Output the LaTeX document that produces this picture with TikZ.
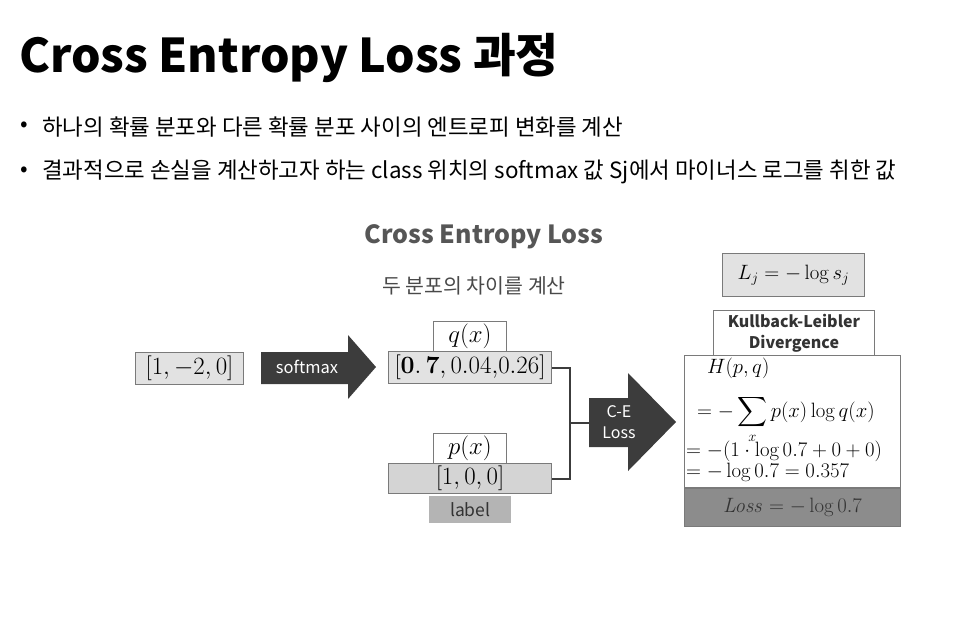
\documentclass[tikz,border=0pt]{standalone}
\usepackage[no-math]{fontspec}
\usepackage{amsmath}
\newfontfamily\kr{Noto Sans CJK KR}
\definecolor{boxline}{HTML}{7A7A7A}
\definecolor{lightfill}{HTML}{E2E2E2}
\definecolor{midfill}{HTML}{D4D4D4}
\definecolor{labelfill}{HTML}{B4B4B4}
\definecolor{darkfill}{HTML}{8C8C8C}
\definecolor{arrowfill}{HTML}{3C3C3C}
\definecolor{captext}{HTML}{565656}
\definecolor{inktext}{HTML}{333333}
\tikzset{
  valbox/.style={draw=boxline, line width=1pt, fill=lightfill, inner sep=0pt, anchor=north west},
  tagbox/.style={draw=boxline, line width=0.8pt, fill=white, inner sep=0pt, anchor=north west},
  wire/.style={draw=arrowfill, line width=2pt},
  arrowbody/.style={fill=arrowfill, draw=none},
  arrowtext/.style={text=white, align=center, font=\kr\fontsize{16.5}{19}\selectfont},
  bullet/.style={anchor=west, font=\kr\fontsize{22.4}{26}\selectfont, text=black, inner sep=0pt},
  mathtxt/.style={font=\fontsize{23.5}{25}\selectfont}
}
\begin{document}
\begin{tikzpicture}[x=1pt,y=-1pt]
\useasboundingbox (0,0) rectangle (976,627);

% heading and bullet points
\node[anchor=base west, inner sep=0pt, font=\kr\bfseries\fontsize{46.5}{52}\selectfont] (title) at (19,72) {Cross Entropy Loss 과정};
\node[bullet] (b1dot) at (20,127) {•};
\node[bullet] (b1) at (42,127) {하나의 확률 분포와 다른 확률 분포 사이의 엔트로피 변화를 계산};
\node[bullet] (b2dot) at (20,172) {•};
\node[bullet] (b2) at (42,172) {결과적으로 손실을 계산하고자 하는 class 위치의 softmax 값 Sj에서 마이너스 로그를 취한 값};

% diagram captions
\node[font=\kr\bfseries\fontsize{25}{28}\selectfont, text=captext] (cap) at (484,237) {Cross Entropy Loss};
\node[font=\kr\fontsize{20.5}{23}\selectfont, text=captext!85!black] (sub) at (474,286) {두 분포의 차이를 계산};

% input logits
\node[valbox, minimum width=108pt, minimum height=32pt] (logit) at (135,352) {};
\node[mathtxt] (logittxt) at (logit.center) {$[1,-2,0]$};

% softmax arrow
\fill[arrowbody] (261,352) -- (348,352) -- (348,335) -- (376,367) -- (348,399) -- (348,384) -- (261,384) -- cycle;
\node[arrowtext] (smxtxt) at (307,367) {softmax};

% predicted distribution q(x)
\node[tagbox, minimum width=73pt, minimum height=30pt] (qtag) at (433,321) {};
\node[mathtxt] (qtagtxt) at (qtag.center) {$q(x)$};
\node[valbox, minimum width=163pt, minimum height=32pt] (qval) at (388,351) {};
\node[mathtxt] (qvaltxt) at (qval.center) {$[\mathbf{0.\,7},0.04{,}0.26]$};

% true distribution p(x)
\node[tagbox, minimum width=73pt, minimum height=30pt] (ptag) at (433,433) {};
\node[mathtxt] (ptagtxt) at (ptag.center) {$p(x)$};
\node[valbox, fill=midfill, minimum width=163pt, minimum height=30pt] (pval) at (388,463) {};
\node[mathtxt] (pvaltxt) at (pval.center) {$[1,0,0]$};
\node[fill=labelfill, anchor=north west, minimum width=82pt, minimum height=27pt, inner sep=0pt,
      text=inktext, font=\kr\fontsize{17.5}{20}\selectfont] (lbl) at (429,496) {label};

% cross-entropy arrow
\fill[arrowbody] (589,398) -- (628,398) -- (628,373) -- (676,422) -- (628,471) -- (628,447) -- (589,447) -- cycle;
\coordinate (cetail) at (589,423);
\node[arrowtext, font=\kr\fontsize{16}{21}\selectfont] (cetxt) at (619,422) {C-E\\Loss};

% joining wires
\coordinate (join) at (570,423);
\draw[wire] (qval.east) -| (join);
\draw[wire] (pval.east) -| (join);
\draw[wire] (join) -- (cetail);

% right column
\node[valbox, minimum width=142pt, minimum height=43pt] (lj) at (722,253) {};
\node[font=\fontsize{21}{24}\selectfont] (ljtxt) at (lj.center) {$L_j=-\log s_j$};
\node[tagbox, minimum width=161pt, minimum height=45pt] (kl) at (713,310) {};
\node[align=center, text=inktext, font=\kr\bfseries\fontsize{16}{21}\selectfont] (kltxt) at (kl.center) {Kullback-Leibler\\Divergence};
\node[tagbox, minimum width=216pt, minimum height=132pt] (hbox) at (684,355) {};
% cross-entropy derivation, lines set on fixed baselines
\node[anchor=north west, inner sep=0pt, align=left, font=\fontsize{21}{0}\selectfont] (hform) at (686,373)
  {\smash{\hspace*{21pt}$H(p,q)$}\\[44pt]
   \smash{\hspace*{11pt}$=-\displaystyle\sum_{x}p(x)\log q(x)$}\\[39pt]
   \smash{$=-(1\cdot\log 0.7+0+0)$}\\[21pt]
   \smash{$=-\log 0.7=0.357$}};
\node[valbox, fill=darkfill, minimum width=216pt, minimum height=38pt] (loss) at (684,488) {};
\node[text=inktext, font=\fontsize{20.5}{23}\selectfont] (losstxt) at (loss.center) {$\mathit{Loss}=-\log 0.7$};
\end{tikzpicture}
\end{document}
